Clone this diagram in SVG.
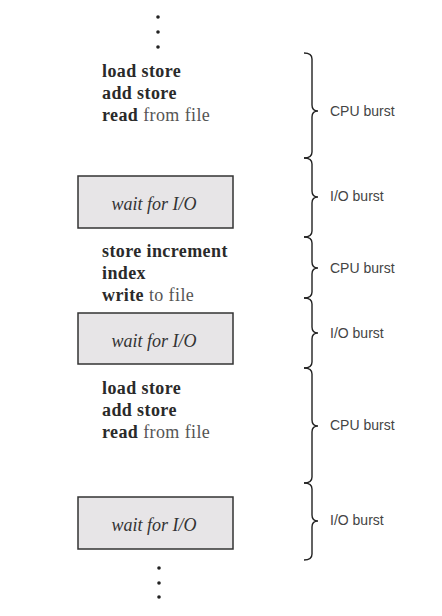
<svg xmlns="http://www.w3.org/2000/svg" width="442" height="616" viewBox="0 0 442 616">
<style>
.code{font-family:"Liberation Serif","Times New Roman",serif;font-size:18px;fill:#2a2a2a;letter-spacing:0.4px}
.b{font-weight:bold}
.r{font-weight:normal;fill:#555}
.box{fill:#e7e5e7;stroke:#333;stroke-width:1.5}
.io{font-family:"Liberation Serif","Times New Roman",serif;font-style:italic;font-size:18px;fill:#333;text-anchor:middle}
.lbl{font-family:"Liberation Sans",Arial,sans-serif;font-size:14px;fill:#444}
.brace{fill:none;stroke:#222;stroke-width:1.4}
.dot{fill:#222}
</style>
<rect width="442" height="616" fill="#fff"/>
<g id="dots-top"><circle class="dot" cx="158" cy="17" r="1.8"/><circle class="dot" cx="158" cy="32" r="1.8"/><circle class="dot" cx="158" cy="47" r="1.8"/></g>
<g id="cpu1-code"><text class="code" x="102" y="77"><tspan class="b">load store</tspan></text><text class="code" x="102" y="99"><tspan class="b">add store</tspan></text><text class="code" x="102" y="121"><tspan class="b">read</tspan><tspan class="r"> from file</tspan></text></g>
<g id="io1"><rect class="box" x="78" y="176" width="155" height="52"/><text class="io" x="154" y="210">wait for I/O</text></g>
<g id="cpu2-code"><text class="code" x="102" y="257"><tspan class="b">store increment</tspan></text><text class="code" x="102" y="279"><tspan class="b">index</tspan></text><text class="code" x="102" y="301"><tspan class="b">write</tspan><tspan class="r"> to file</tspan></text></g>
<g id="io2"><rect class="box" x="78" y="313" width="155" height="51"/><text class="io" x="154" y="347">wait for I/O</text></g>
<g id="cpu3-code"><text class="code" x="102" y="394"><tspan class="b">load store</tspan></text><text class="code" x="102" y="416"><tspan class="b">add store</tspan></text><text class="code" x="102" y="438"><tspan class="b">read</tspan><tspan class="r"> from file</tspan></text></g>
<g id="io3"><rect class="box" x="78" y="497" width="155" height="52"/><text class="io" x="154" y="531">wait for I/O</text></g>
<g id="dots-bottom"><circle class="dot" cx="159" cy="568" r="1.8"/><circle class="dot" cx="159" cy="583" r="1.8"/><circle class="dot" cx="159" cy="597" r="1.8"/></g>
<g id="braces">
<path class="brace" d="M304,53 q8,0 8,6 V105 q0,6 6,6 q-6,0 -6,6 V152 q0,6 -8,6"/>
<path class="brace" d="M304,158 q8,0 8,6 V191 q0,6 6,6 q-6,0 -6,6 V231 q0,6 -8,6"/>
<path class="brace" d="M304,237 q8,0 8,6 V262 q0,6 6,6 q-6,0 -6,6 V292 q0,6 -8,6"/>
<path class="brace" d="M304,298 q8,0 8,6 V327 q0,6 6,6 q-6,0 -6,6 V362 q0,6 -8,6"/>
<path class="brace" d="M304,368 q8,0 8,6 V420 q0,6 6,6 q-6,0 -6,6 V477 q0,6 -8,6"/>
<path class="brace" d="M304,483 q8,0 8,6 V515 q0,6 6,6 q-6,0 -6,6 V554 q0,6 -8,6"/>
</g>
<g id="labels">
<text class="lbl" x="330" y="116">CPU burst</text>
<text class="lbl" x="330" y="201">I/O burst</text>
<text class="lbl" x="330" y="273">CPU burst</text>
<text class="lbl" x="330" y="338">I/O burst</text>
<text class="lbl" x="330" y="430">CPU burst</text>
<text class="lbl" x="330" y="525">I/O burst</text>
</g>
</svg>
